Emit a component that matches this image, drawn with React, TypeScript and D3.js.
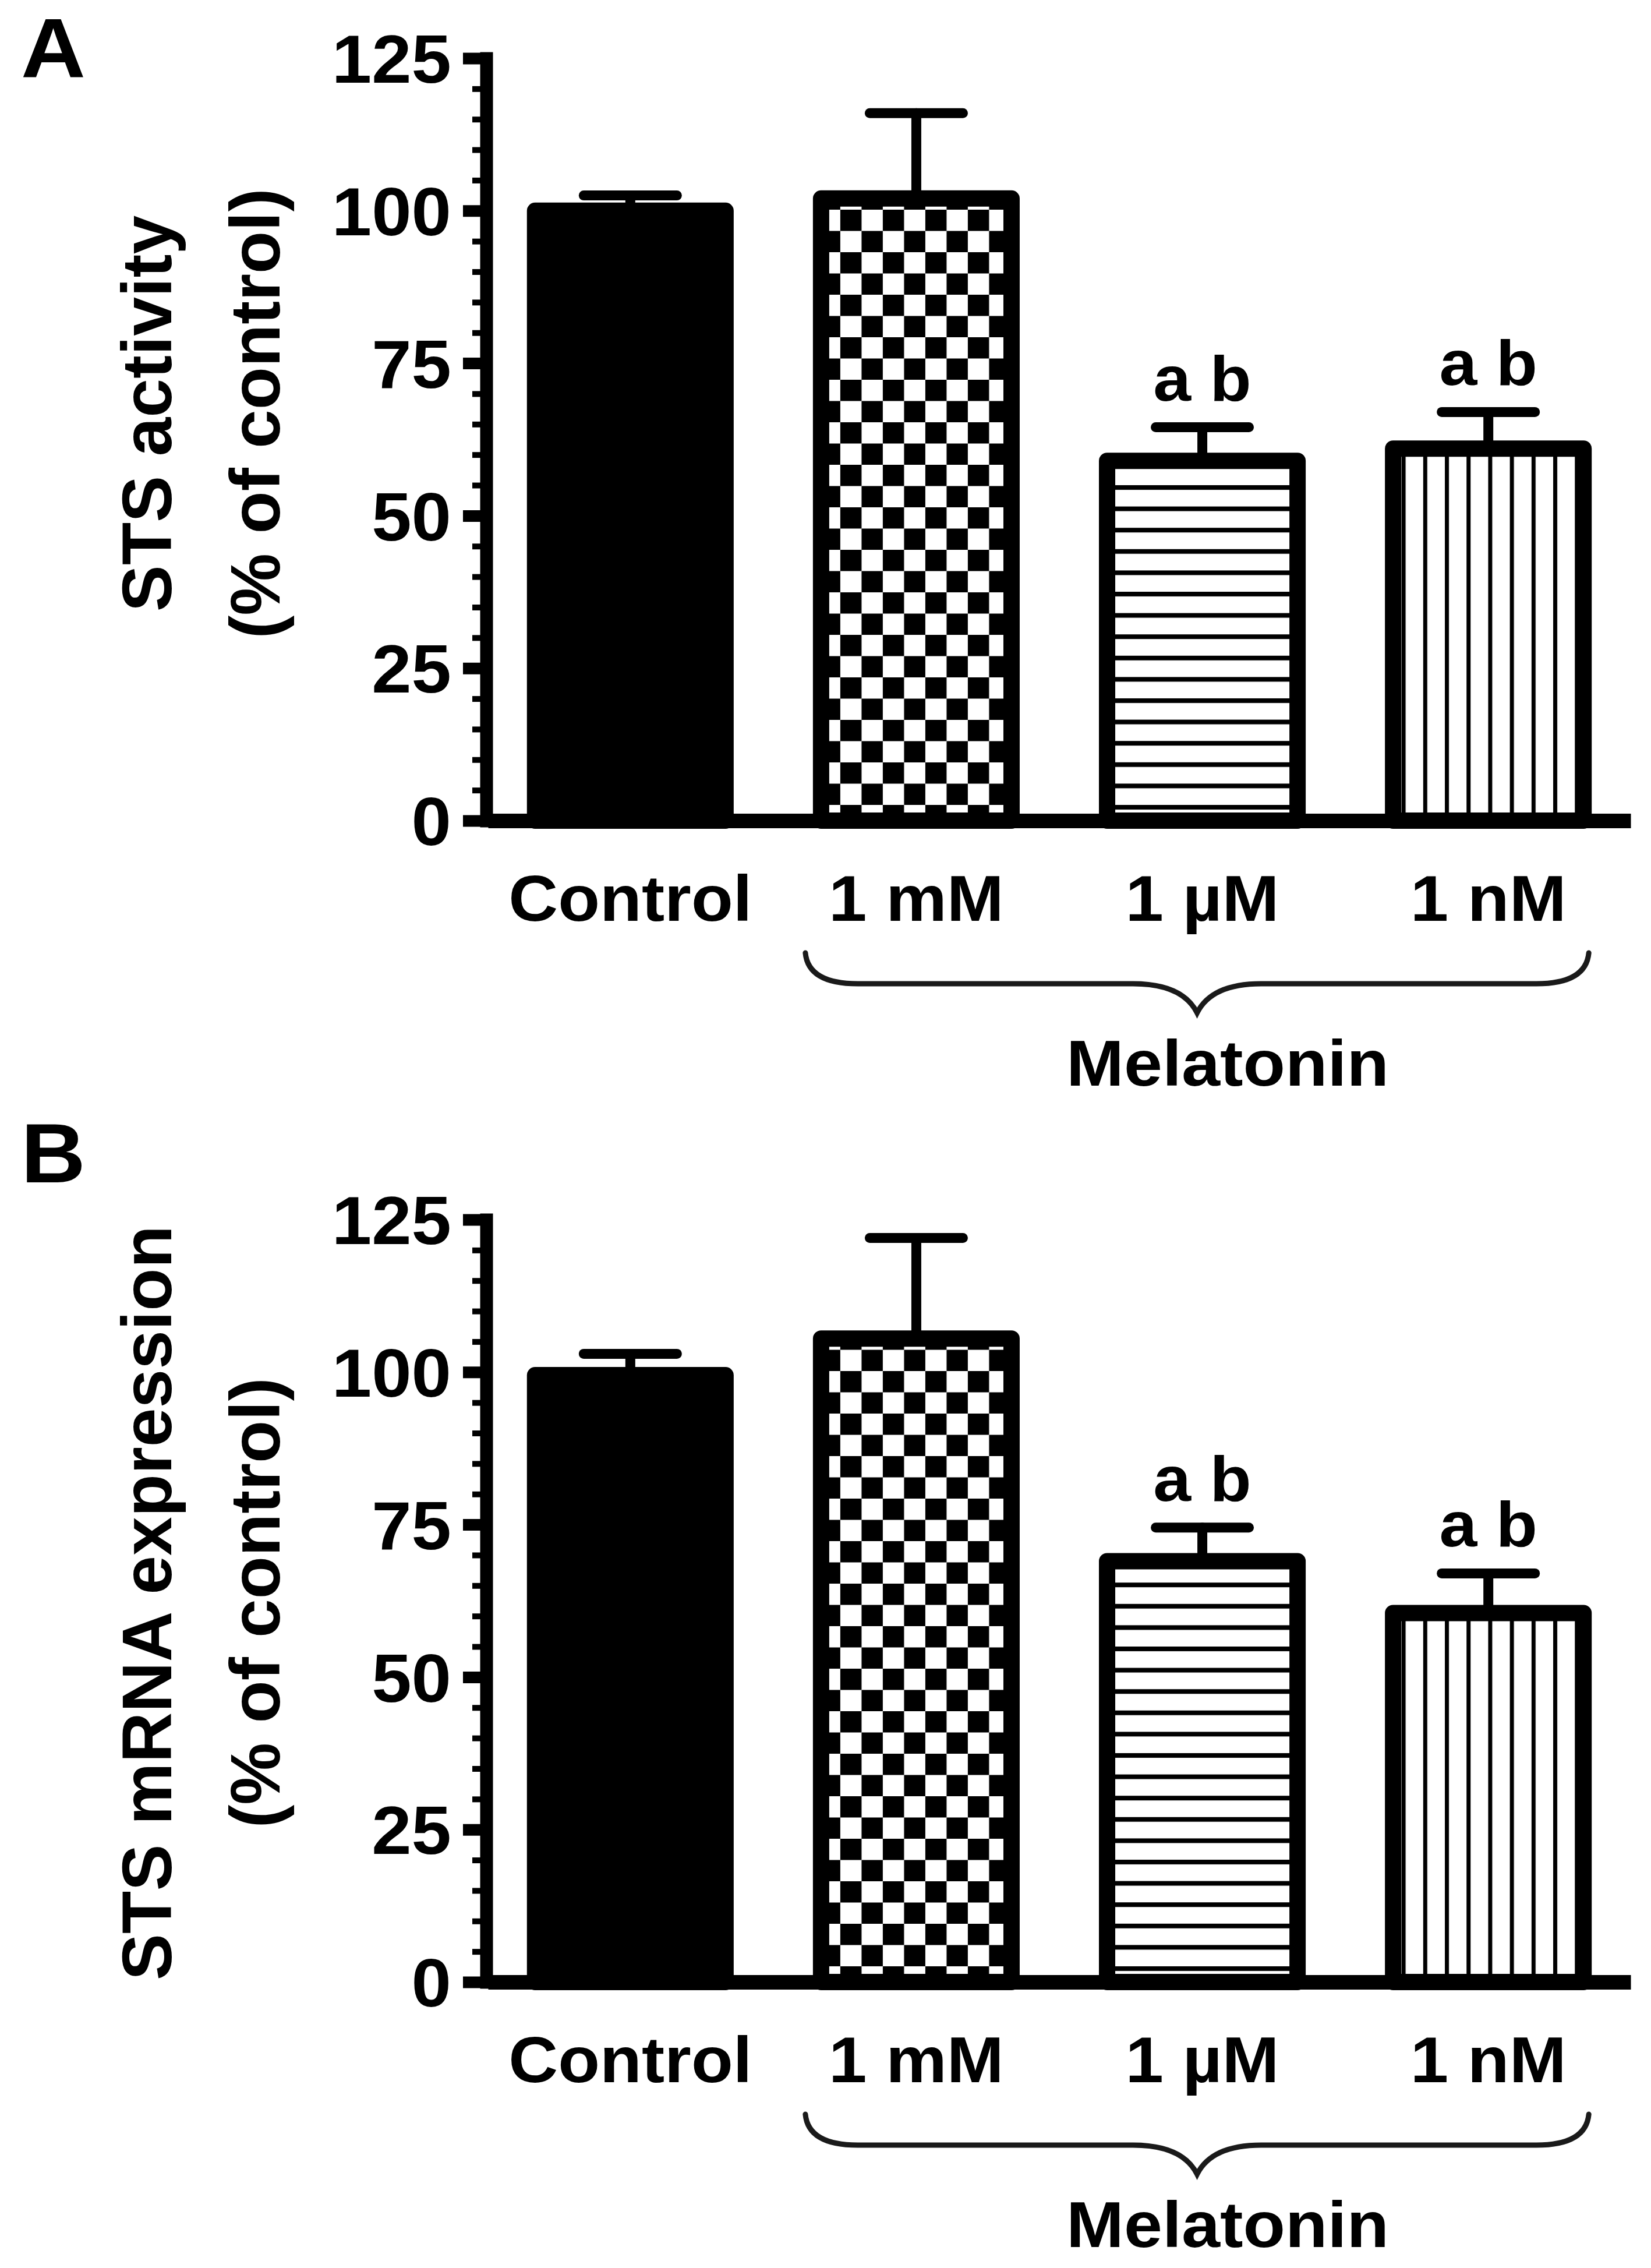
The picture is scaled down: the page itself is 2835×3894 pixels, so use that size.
import React, { useEffect, useRef } from 'react';
import * as d3 from 'd3';

// ---- data ----
const categories = ['Control', '1 mM', '1 µM', '1 nM'];
const barFills = ['solid', 'checker', 'hlines', 'vlines'];
const activityMean = [100, 102, 59, 61];
const activityErr = [2.5, 14, 5.5, 6];
const mrnaMean = [99.5, 105.5, 69, 60.5];
const mrnaErr = [3.5, 16.5, 5.5, 6.5];
const sigLabels = ['', '', 'a b', 'a b'];
const yTicks = [0, 25, 50, 75, 100, 125];
const yMinorTicks = d3.range(0, 126, 5);

const W = 2835;
const H = 3894;
const FONT = '"Liberation Sans", Arial, Helvetica, sans-serif';
const STRETCH = 1.06; // source figure text is a bit wider than the font
const AXIS_X = 835;
const PANEL_H = 1309;
const CELL = 36.5;

const x = d3.scaleBand<string>()
  .domain(categories)
  .range([838, 2800])
  .paddingInner(0.277)
  .paddingOuter(0.136);

interface PanelProps {
  id: string;
  letter: string;
  letterY: number;
  yTop: number;
  means: number[];
  errs: number[];
  titleLines: string[];
  titleY: number;
}

const Panel: React.FC<PanelProps> = ({ id, letter, letterY, yTop, means, errs, titleLines, titleY }) => {
  const axisRef = useRef<SVGGElement>(null);
  const y0 = yTop + PANEL_H;
  const y = d3.scaleLinear().domain([0, 125]).range([y0, yTop]);

  useEffect(() => {
    if (!axisRef.current) return;
    const g = d3.select(axisRef.current);
    g.selectAll('*').remove();

    // minor ticks every 5
    g.append('g')
      .attr('transform', `translate(${AXIS_X},0)`)
      .call(d3.axisLeft(y).tickValues(yMinorTicks).tickSize(24).tickFormat(() => ''))
      .call(s => s.select('.domain').remove())
      .call(s => s.selectAll('.tick line').attr('stroke', '#000').attr('stroke-width', 10));

    // major y axis
    g.append('g')
      .attr('transform', `translate(${AXIS_X},0)`)
      .call(d3.axisLeft(y).tickValues(yTicks).tickSize(40).tickSizeOuter(0).tickPadding(20))
      .call(s => s.select('.domain').attr('stroke', '#000').attr('stroke-width', 22).attr('stroke-linecap', 'square'))
      .call(s => s.selectAll('.tick line').attr('stroke', '#000').attr('stroke-width', 20))
      .call(s => s.selectAll('.tick text')
        .attr('font-size', 116)
        .attr('font-weight', 'bold')
        .attr('font-family', FONT)
        .attr('fill', '#000')
        .attr('x', -60 / STRETCH)
        .attr('dy', '0.36em')
        .attr('transform', `scale(${STRETCH},1)`));

    // x axis with category labels
    g.append('g')
      .attr('transform', `translate(0,${y0})`)
      .call(d3.axisBottom(x).tickSize(0).tickSizeOuter(0).tickPadding(93))
      .call(s => s.select('.domain').attr('stroke', '#000').attr('stroke-width', 25))
      .call(s => s.selectAll('.tick text')
        .attr('font-size', 111)
        .attr('font-weight', 'bold')
        .attr('font-family', FONT)
        .attr('fill', '#000')
        .attr('transform', `scale(${STRETCH},1)`));
  }, [yTop]);

  const fillFor = (kind: string) =>
    kind === 'solid' ? '#000' : `url(#${kind}-${id})`;

  const bw = x.bandwidth();
  const sw = 28;

  // brace under the melatonin groups
  const bx1 = (x('1 mM') as number) - 13;
  const bx2 = (x('1 nM') as number) + bw - 5;
  const bc = (bx1 + bx2) / 2;
  const yE = y0 + 227;
  const yHb = y0 + 280;
  const yT = y0 + 330;
  const brace = d3.path();
  brace.moveTo(bx1, yE);
  brace.quadraticCurveTo(bx1 + 5, yHb, bx1 + 90, yHb);
  brace.lineTo(bc - 110, yHb);
  brace.quadraticCurveTo(bc - 25, yHb, bc, yT);
  brace.quadraticCurveTo(bc + 25, yHb, bc + 110, yHb);
  brace.lineTo(bx2 - 90, yHb);
  brace.quadraticCurveTo(bx2 - 5, yHb, bx2, yE);

  return (
    <g>
      <defs>
        <pattern id={`checker-${id}`} patternUnits="userSpaceOnUse" width={2 * CELL} height={2 * CELL}
          x={(x('1 mM') as number) + 47} y={y0 - 27}>
          <rect width={2 * CELL} height={2 * CELL} fill="#fff" />
          <rect width={CELL} height={CELL} fill="#000" />
          <rect x={CELL} y={CELL} width={CELL} height={CELL} fill="#000" />
        </pattern>
        <pattern id={`hlines-${id}`} patternUnits="userSpaceOnUse" width={100} height={36.6} x={0} y={y0 - 27}>
          <rect width={100} height={36.6} fill="#fff" />
          <rect width={100} height={8} fill="#000" />
        </pattern>
        <pattern id={`vlines-${id}`} patternUnits="userSpaceOnUse" width={37.2} height={100}
          x={(x('1 nM') as number) + 28.5} y={0}>
          <rect width={37.2} height={100} fill="#fff" />
          <rect width={7} height={100} fill="#000" />
        </pattern>
      </defs>

      {/* panel letter */}
      <text x={36} y={letterY} fontFamily={FONT} fontWeight="bold" fontSize={145}
        transform={`translate(${36 * (1 - STRETCH)},0) scale(${STRETCH},1)`}>{letter}</text>

      {/* y title */}
      {titleLines.map((t, i) => (
        <text key={t} fontFamily={FONT} fontWeight="bold" fontSize={120} textAnchor="middle"
          transform={`translate(${i === 0 ? 294 : 480},${titleY}) rotate(-90)`}>{t}</text>
      ))}

      {/* bars */}
      {categories.map((c, i) => {
        const bx = x(c) as number;
        const top = y(means[i]);
        return (
          <rect key={c} x={bx + sw / 2} y={top} width={bw - sw} height={y0 - top}
            fill={fillFor(barFills[i])} stroke="#000" strokeWidth={sw} strokeLinejoin="round" />
        );
      })}

      <g ref={axisRef} />

      {/* error bars (upper only) */}
      {categories.map((c, i) => {
        const cx = (x(c) as number) + bw / 2;
        const yTopVal = y(means[i]);
        const yErr = y(means[i] + errs[i]);
        return (
          <g key={c} stroke="#000" strokeWidth={17} strokeLinecap="round">
            <line x1={cx} x2={cx} y1={yTopVal} y2={yErr} />
            <line x1={cx - 80} x2={cx + 80} y1={yErr} y2={yErr} />
          </g>
        );
      })}

      {/* significance letters */}
      {categories.map((c, i) => sigLabels[i] ? (
        <text key={c} fontFamily={FONT} fontWeight="bold" fontSize={110} textAnchor="middle" xmlSpace="preserve"
          transform={`translate(${(x(c) as number) + bw / 2},${y(means[i] + errs[i]) - 46}) scale(${STRETCH},1)`}>
          {sigLabels[i]}
        </text>
      ) : null)}

      {/* brace + group label */}
      <path d={brace.toString()} fill="none" stroke="#1a1a1a" strokeWidth={9} strokeLinecap="round" />
      <text fontFamily={FONT} fontWeight="bold" fontSize={112} textAnchor="middle"
        transform={`translate(2108,${y0 + 455}) scale(${STRETCH},1)`}>Melatonin</text>
    </g>
  );
};

export default function App() {
  return (
    <svg width={W} height={H} viewBox={`0 0 ${W} ${H}`}
      style={{ position: 'absolute', left: 0, top: 0, display: 'block', background: '#fff' }}>
      <rect width={W} height={H} fill="#fff" />
      <Panel id="a" letter="A" letterY={132} yTop={100} means={activityMean} errs={activityErr}
        titleLines={['STS activity', '(% of control)']} titleY={710} />
      <Panel id="b" letter="B" letterY={2030} yTop={2094} means={mrnaMean} errs={mrnaErr}
        titleLines={['STS mRNA expression', '(% of control)']} titleY={2752} />
    </svg>
  );
}
